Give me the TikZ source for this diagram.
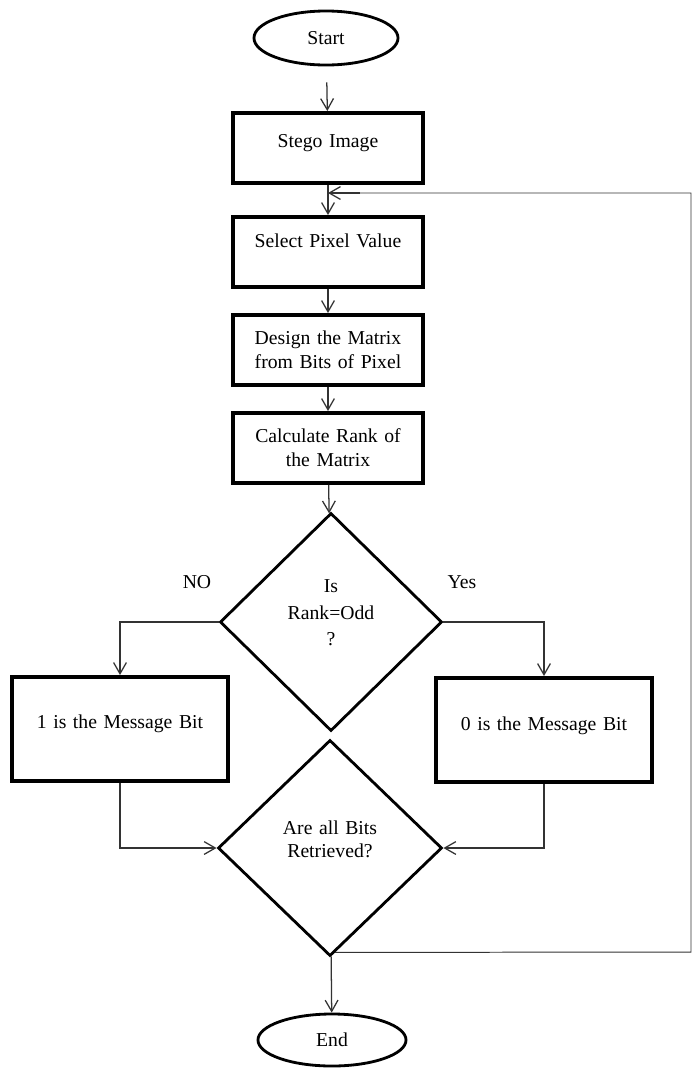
\documentclass[tikz,border=0pt]{standalone}
\usepackage{fontspec}
\setmainfont{Liberation Serif}
\usetikzlibrary{shapes.geometric,arrows.meta}

\begin{document}
\begin{tikzpicture}[x=0.025cm,y=-0.025cm]

% definitions
\tikzstyle{terminal} = [ellipse, draw=black, line width=2pt, text centered, font=\fontsize{14}{17}\selectfont]

\tikzstyle{process} = [rectangle, minimum width=4.75cm, minimum height=1.75cm, text centered, draw=black, line width=2.8pt, text width=4.5cm, font=\fontsize{14}{17}\selectfont]

\tikzstyle{result} = [rectangle, minimum width=5.4cm, minimum height=2.6cm, text centered, draw=black, line width=2.8pt, text width=5cm, font=\fontsize{14}{17}\selectfont]

\tikzstyle{decision} = [diamond, minimum width=5.55cm, minimum height=5.45cm, text centered, draw=black, line width=2pt, inner sep=0pt, text width=3cm, font=\fontsize{14}{19}\selectfont]

\tikzstyle{answer} = [font=\fontsize{14}{17}\selectfont]

\tikzstyle{arrow} = [-{Straight Barb[length=0.28cm,width=0.32cm]}, line width=0.9pt, draw=black!80]

\tikzstyle{loopline} = [line width=0.7pt, draw=black!80]

\useasboundingbox (0,0) rectangle (693,1068);

% the graph
\node (start) [terminal, minimum width=3.6cm, minimum height=1.35cm] at (326,38) {Start};

\node (stego) [process, text depth=0.35cm] at (328,148) {Stego Image};

\node (select) [process, text depth=0.55cm] at (328,252) {Select Pixel Value};

\node (design) [process] at (328,350) {Design the Matrix\\ from Bits of Pixel};

\node (calc) [process] at (328,448) {Calculate Rank of\\ the Matrix};

\node (odd) [decision, text depth=1.8cm] at (331,622) {Is\\ Rank=Odd\\ ?};

\node (no) [answer] at (197,582) {NO};

\node (yes) [answer] at (462,582) {Yes};

\node (one) [result, text depth=0.35cm] at (120,729) {1 is the Message Bit};

\node (zero) [result, text depth=0.3cm] at (544,730) {0 is the Message Bit};

\node (done) [decision, minimum width=5.6cm, minimum height=5.4cm, text depth=1cm, font=\fontsize{14}{16}\selectfont] at (330,848) {Are all Bits\\ Retrieved?};

\node (stop) [terminal, minimum width=3.7cm, minimum height=1.3cm] at (332,1040) {End};

\coordinate (corner) at (691,952);
\coordinate (back) at (328,193);

\draw [arrow, shorten <=0.4cm] (start) -- (stego);
\draw [arrow] (stego) -- (select);
\draw [arrow] (select) -- (design);
\draw [arrow] (design) -- (calc);
\draw [arrow] (calc) -- (odd);
\draw [arrow] (odd.west) -| (one.north);
\draw [arrow] (odd.east) -| (zero.north);
\draw [arrow] (one.south) |- (done.west);
\draw [arrow] (zero.south) |- (done.east);
\draw [arrow] (done) -- (stop);
\draw [loopline] ([shift={(5,-5)}]done.south) -- (corner) |- (back);
\draw [arrow] ([xshift=0.8cm]back) -- (back);

\end{tikzpicture}
\end{document}
